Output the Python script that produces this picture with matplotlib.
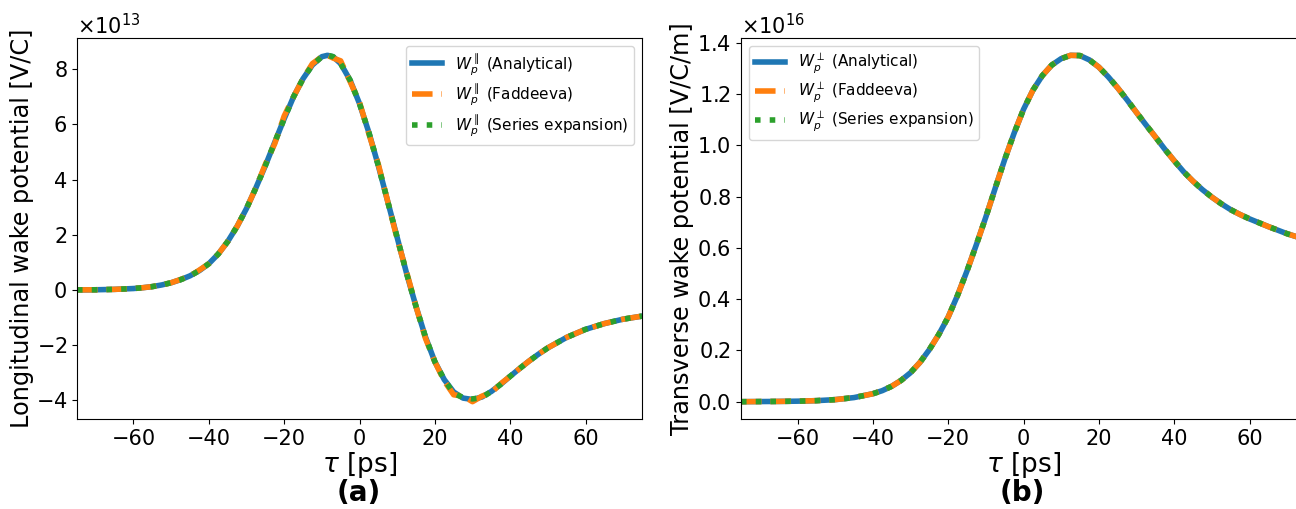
import matplotlib
matplotlib.use('Agg')
import matplotlib.pyplot as plt
import numpy as np
from matplotlib.ticker import ScalarFormatter

# longitudinal wake potential, units of 1e13 V/C
tau_l = [-75, -70, -65, -60, -57.5, -55, -52.5, -50, -47.5, -45, -42.5, -40, -37.5, -35,
         -32.5, -30, -27.5, -25, -22.5, -20, -17.5, -15, -12.5, -10, -8.5, -7, -5, -2.5,
         0, 2.5, 5, 7.5, 10, 12.5, 15, 17.5, 20, 22.5, 25, 27.5, 30, 32.5, 35, 37.5,
         40, 42.5, 45, 47.5, 50, 55, 60, 65, 70, 75]
wl_analytical = [0.0, 0.005, 0.02, 0.05, 0.08, 0.12, 0.18, 0.26, 0.37, 0.51, 0.7, 0.95, 1.3,
                 1.75, 2.3, 2.95, 3.7, 4.5, 5.35, 6.2, 7.0, 7.65, 8.15, 8.45, 8.5, 8.45, 8.2,
                 7.6, 6.75, 5.7, 4.5, 3.2, 1.9, 0.6, -0.6, -1.7, -2.6, -3.25, -3.7, -3.92,
                 -3.97, -3.88, -3.68, -3.42, -3.13, -2.85, -2.58, -2.33, -2.1, -1.72, -1.43,
                 -1.22, -1.06, -0.95]
wl_faddeeva = [0.0, 0.005, 0.02, 0.05, 0.08, 0.12, 0.18, 0.26, 0.38, 0.5, 0.72, 0.95, 1.3,
               1.75, 2.3, 2.95, 3.7, 4.55, 5.3, 6.3, 7.0, 7.65, 8.2, 8.45, 8.5, 8.4, 8.3,
               7.55, 6.8, 5.65, 4.55, 3.2, 1.85, 0.65, -0.6, -1.75, -2.6, -3.3, -3.8, -3.85,
               -4.05, -3.85, -3.72, -3.4, -3.13, -2.85, -2.58, -2.33, -2.1, -1.72, -1.43,
               -1.22, -1.06, -0.95]
wl_series = [0.0, 0.005, 0.02, 0.05, 0.08, 0.12, 0.18, 0.26, 0.37, 0.51, 0.7, 0.95, 1.3,
             1.75, 2.3, 2.95, 3.7, 4.5, 5.35, 6.2, 7.0, 7.65, 8.15, 8.45, 8.5, 8.45, 8.2,
             7.6, 6.75, 5.7, 4.5, 3.2, 1.9, 0.6, -0.6, -1.7, -2.6, -3.25, -3.75, -3.9,
             -3.95, -3.9, -3.68, -3.42, -3.13, -2.85, -2.58, -2.33, -2.1, -1.72, -1.43,
             -1.22, -1.06, -0.95]

# transverse wake potential, units of 1e16 V/C/m
tau_t = [-75, -65, -60, -55, -50, -45, -40, -37.5, -35, -32.5, -30, -27.5, -25, -22.5, -20,
         -17.5, -15, -12.5, -10, -7.5, -5, -2.5, 0, 2.5, 5, 7.5, 10, 12.5, 15, 17.5, 20,
         22.5, 25, 27.5, 30, 32.5, 35, 37.5, 40, 42.5, 45, 47.5, 50, 52.5, 55, 57.5, 60,
         65, 70, 75]
wt_analytical = [0.0, 0.001, 0.002, 0.004, 0.008, 0.016, 0.031, 0.043, 0.06, 0.083, 0.113,
                 0.153, 0.203, 0.262, 0.33, 0.415, 0.51, 0.613, 0.72, 0.833, 0.944, 1.047,
                 1.14, 1.215, 1.272, 1.313, 1.338, 1.351, 1.35, 1.333, 1.305, 1.267, 1.224,
                 1.177, 1.128, 1.08, 1.033, 0.985, 0.94, 0.897, 0.86, 0.827, 0.798, 0.772,
                 0.749, 0.73, 0.713, 0.683, 0.655, 0.632]
wt_faddeeva = wt_analytical
wt_series = wt_analytical

plt.rcParams['font.family'] = 'DejaVu Sans'
plt.rcParams['mathtext.fontset'] = 'dejavusans'

fig = plt.figure(figsize=(12.96, 5.09), dpi=100)
ax1 = fig.add_axes([77/1296, 90/509, 565/1296, 381/509])
ax2 = fig.add_axes([741/1296, 90/509, 565/1296, 381/509])

lw = 4
s = 1e13
ax1.plot(tau_l, np.array(wl_analytical)*s, '-', color='#1f77b4', lw=lw,
         label=r'$W_p^{\parallel}$ (Analytical)')
ax1.plot(tau_l, np.array(wl_faddeeva)*s, '--', color='#ff7f0e', lw=lw,
         label=r'$W_p^{\parallel}$ (Faddeeva)')
ax1.plot(tau_l, np.array(wl_series)*s, ':', color='#2ca02c', lw=lw,
         label=r'$W_p^{\parallel}$ (Series expansion)')

s = 1e16
ax2.plot(tau_t, np.array(wt_analytical)*s, '-', color='#1f77b4', lw=lw,
         label=r'$W_p^{\perp}$ (Analytical)')
ax2.plot(tau_t, np.array(wt_faddeeva)*s, '--', color='#ff7f0e', lw=lw,
         label=r'$W_p^{\perp}$ (Faddeeva)')
ax2.plot(tau_t, np.array(wt_series)*s, ':', color='#2ca02c', lw=lw,
         label=r'$W_p^{\perp}$ (Series expansion)')

for ax in (ax1, ax2):
    ax.set_xlim(-75, 75)
    ax.set_xticks([-60, -40, -20, 0, 20, 40, 60])
    fmt = ScalarFormatter(useMathText=True)
    ax.yaxis.set_major_formatter(fmt)
    ax.tick_params(labelsize=15)
    ax.yaxis.get_offset_text().set_fontsize(15)
    ax.set_xlabel(r'$\tau$ [ps]', fontsize=19, labelpad=1)

ax1.set_ylabel('Longitudinal wake potential [V/C]', fontsize=17.3)
ax2.set_ylabel('Transverse wake potential [V/C/m]', fontsize=17.3)
ax1.yaxis.set_label_coords(-0.076, 0.5)
ax2.yaxis.set_label_coords(-0.083, 0.5)
ax1.legend(loc='upper right', fontsize=11, labelspacing=0.3)
ax2.legend(loc='upper left', fontsize=11, labelspacing=0.3)

fig.text(359/1296, 1 - 493/509, '(a)', fontsize=20, fontweight='bold', ha='center', va='center')
fig.text(1022/1296, 1 - 493/509, '(b)', fontsize=20, fontweight='bold', ha='center', va='center')

fig.savefig('out.png', dpi=100)
